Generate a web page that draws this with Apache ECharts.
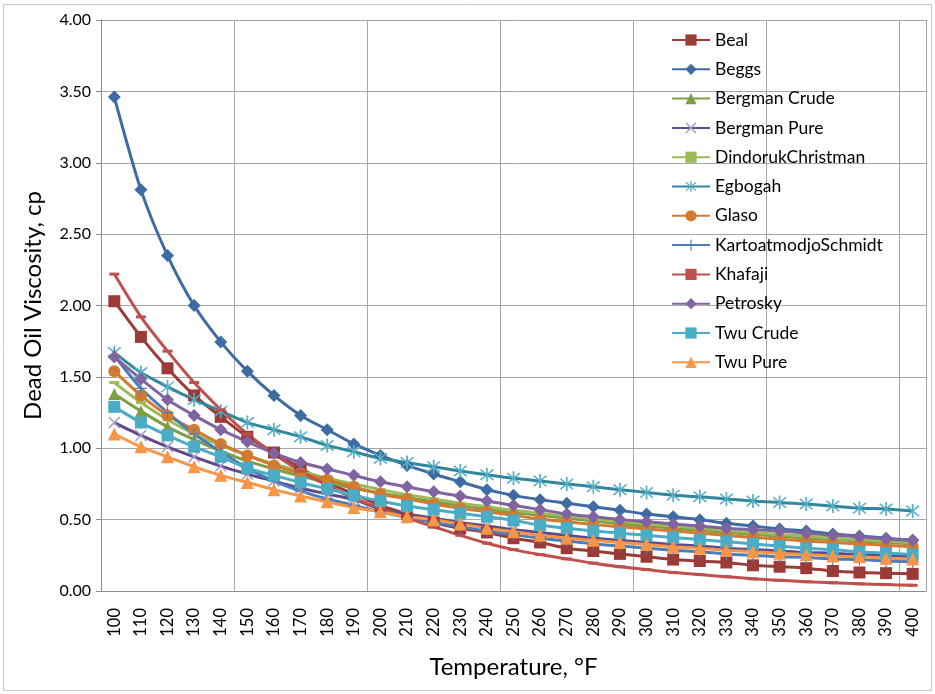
<!DOCTYPE html>
<html>
<head>
<meta charset="utf-8">
<script src="https://cdn.jsdelivr.net/npm/echarts@6/dist/echarts.min.js"></script>
<style>
html,body{margin:0;padding:0;background:#fff;}
#chart{width:935px;height:694px;}
</style>
</head>
<body>
<div id="chart"></div>
<script>
const categories = ['100','110','120','130','140','150','160','170','180','190','200','210','220','230','240','250','260','270','280','290','300','310','320','330','340','350','360','370','380','390','400'];
const yTicks = [0, 0.5, 1, 1.5, 2, 2.5, 3, 3.5, 4];

const beal = [2.03,1.78,1.56,1.37,1.22,1.08,0.97,0.86,0.76,0.68,0.60,0.54,0.48,0.44,0.41,0.37,0.34,0.30,0.28,0.26,0.24,0.22,0.21,0.20,0.18,0.17,0.16,0.14,0.13,0.125,0.12];
const beggs = [3.46,2.81,2.35,2.00,1.745,1.54,1.37,1.23,1.13,1.03,0.95,0.88,0.82,0.765,0.71,0.67,0.64,0.615,0.59,0.565,0.54,0.52,0.50,0.475,0.455,0.435,0.42,0.40,0.385,0.37,0.355];
const bergmanCrude = [1.38,1.26,1.15,1.06,0.98,0.91,0.855,0.805,0.76,0.72,0.685,0.655,0.625,0.60,0.575,0.55,0.53,0.51,0.49,0.47,0.455,0.44,0.425,0.41,0.395,0.385,0.37,0.36,0.35,0.34,0.33];
const bergmanPure = [1.18,1.09,1.01,0.94,0.875,0.82,0.77,0.72,0.68,0.64,0.575,0.54,0.51,0.48,0.455,0.43,0.41,0.39,0.37,0.355,0.34,0.325,0.315,0.30,0.29,0.28,0.27,0.265,0.255,0.25,0.24];
const dindoruk = [1.46,1.32,1.20,1.10,1.02,0.95,0.89,0.84,0.79,0.75,0.71,0.675,0.645,0.615,0.59,0.565,0.545,0.525,0.505,0.49,0.47,0.455,0.44,0.425,0.41,0.395,0.385,0.37,0.36,0.35,0.34];
const egbogah = [1.67,1.53,1.43,1.34,1.26,1.18,1.13,1.08,1.02,0.975,0.93,0.90,0.87,0.84,0.815,0.79,0.77,0.75,0.73,0.71,0.69,0.67,0.66,0.645,0.63,0.62,0.61,0.595,0.58,0.575,0.56];
const glaso = [1.54,1.37,1.23,1.13,1.03,0.95,0.88,0.825,0.78,0.73,0.68,0.645,0.61,0.58,0.555,0.53,0.505,0.485,0.465,0.45,0.435,0.42,0.405,0.39,0.375,0.365,0.35,0.34,0.33,0.32,0.31];
const kartoatmodjo = [1.65,1.42,1.25,1.10,0.975,0.86,0.77,0.70,0.645,0.60,0.555,0.515,0.48,0.45,0.42,0.395,0.37,0.35,0.33,0.315,0.30,0.285,0.275,0.26,0.25,0.24,0.235,0.225,0.22,0.21,0.205];
const khafaji = [2.22,1.92,1.68,1.46,1.27,1.10,0.96,0.84,0.74,0.65,0.58,0.51,0.45,0.39,0.335,0.29,0.255,0.225,0.195,0.17,0.15,0.13,0.115,0.10,0.085,0.075,0.065,0.058,0.05,0.045,0.04];
const petrosky = [1.64,1.485,1.34,1.23,1.13,1.045,0.965,0.90,0.855,0.81,0.765,0.73,0.695,0.665,0.63,0.60,0.57,0.54,0.52,0.50,0.485,0.47,0.455,0.44,0.43,0.42,0.405,0.39,0.38,0.365,0.355];
const twuCrude = [1.29,1.18,1.09,1.01,0.94,0.86,0.81,0.76,0.715,0.67,0.63,0.595,0.57,0.545,0.52,0.495,0.46,0.44,0.42,0.405,0.39,0.375,0.36,0.345,0.33,0.315,0.30,0.29,0.275,0.265,0.255];
const twuPure = [1.10,1.01,0.94,0.87,0.81,0.76,0.71,0.665,0.625,0.585,0.555,0.52,0.50,0.47,0.44,0.415,0.39,0.37,0.355,0.34,0.325,0.31,0.30,0.285,0.275,0.265,0.255,0.245,0.24,0.23,0.225];

const SYM_STAR = 'path://M-0.6,-6H0.6V6H-0.6Z M-4.08,-4.92L4.92,4.08L4.08,4.92L-4.92,-4.08Z M4.08,-4.92L4.92,-4.08L-4.08,4.92L-4.92,4.08Z';
const SYM_X = 'path://M-4.08,-4.92L4.92,4.08L4.08,4.92L-4.92,-4.08Z M4.08,-4.92L4.92,-4.08L-4.08,4.92L-4.92,4.08Z';
const SYM_PLUS = 'path://M-0.6,-6H0.6V6H-0.6Z M-6,-0.6H6V0.6H-6Z';
const SYM_DASH = 'path://M-5,-1H5V1H-5Z';

const FONT = 'Lato';

function mk(name, data, lineColor, markColor, symbol, size) {
  return {
    name: name,
    type: 'line',
    data: data,
    smooth: 0.25,
    symbol: symbol,
    symbolSize: size,
    showAllSymbol: true,
    lineStyle: { color: lineColor, width: 3 },
    itemStyle: { color: markColor, borderWidth: 0 },
    emphasis: { disabled: true }
  };
}

const series = [
  mk('Beal', beal, '#9B3B38', '#9B3B38', 'rect', 12),
  mk('Beggs', beggs, '#3E6BA4', '#3E6BA4', 'diamond', 13),
  mk('Bergman Crude', bergmanCrude, '#7E9D46', '#7E9D46', 'triangle', 12),
  mk('Bergman Pure', bergmanPure, '#5E4A8A', '#A597C6', SYM_X, 12),
  mk('DindorukChristman', dindoruk, '#9BBB59', '#9BBB59', SYM_DASH, [10, 3]),
  mk('Egbogah', egbogah, '#31879C', '#55AFC6', SYM_STAR, 14),
  mk('Glaso', glaso, '#D27A31', '#D27A31', 'circle', 12),
  mk('KartoatmodjoSchmidt', kartoatmodjo, '#4A7EBB', '#4A7EBB', SYM_PLUS, 12),
  mk('Khafaji', khafaji, '#C0504D', '#C0504D', SYM_DASH, [10, 3]),
  mk('Petrosky', petrosky, '#8064A2', '#8064A2', 'diamond', 13),
  mk('Twu Crude', twuCrude, '#4BACC6', '#4BACC6', 'rect', 12),
  mk('Twu Pure', twuPure, '#F79646', '#F79646', 'triangle', 13)
];

const chart = echarts.init(document.getElementById('chart'), null, { renderer: 'canvas' });
chart.setOption({
  animation: false,
  backgroundColor: '#fff',
  textStyle: { fontFamily: FONT },
  graphic: [{
    type: 'rect', silent: true, z: -1,
    shape: { x: 3.5, y: 4.5, width: 928, height: 686 },
    style: { fill: 'none', stroke: '#c6c6c6', lineWidth: 1 }
  }],
  grid: { left: 101, right: 9, top: 20, bottom: 103, containLabel: false },
  legend: {
    orient: 'vertical',
    left: 666,
    top: 26,
    itemWidth: 38,
    itemHeight: 14,
    itemGap: 11.3,
    textStyle: { fontFamily: FONT, fontSize: 17.5, color: '#000' },
    data: series.map(s => s.name)
  },
  xAxis: {
    type: 'category',
    data: categories,
    boundaryGap: true,
    name: 'Temperature, °F',
    nameLocation: 'middle',
    nameGap: 64,
    nameTextStyle: { fontFamily: FONT, fontSize: 24, color: '#000' },
    axisLine: { lineStyle: { color: '#8c8c8c', width: 1 } },
    axisTick: { show: false },
    axisLabel: { rotate: 90, margin: 17, fontFamily: FONT, fontSize: 16.5, color: '#000', interval: 0 },
    splitLine: { show: true, interval: 4, lineStyle: { color: '#a6a6a6', width: 1 } }
  },
  yAxis: {
    type: 'value',
    min: 0,
    max: 4,
    interval: 0.5,
    name: 'Dead Oil Viscosity, cp',
    nameLocation: 'middle',
    nameGap: 56,
    nameTextStyle: { fontFamily: FONT, fontSize: 24, color: '#000' },
    axisLine: { show: true, lineStyle: { color: '#8c8c8c', width: 1 } },
    axisTick: { show: true, length: 5, lineStyle: { color: '#8c8c8c' } },
    axisLabel: {
      margin: 10, fontFamily: FONT, fontSize: 16, color: '#000',
      formatter: v => (yTicks.indexOf(v) >= 0 ? v.toFixed(2) : '')
    },
    splitLine: { show: true, lineStyle: { color: '#a6a6a6', width: 1 } }
  },
  series: series
});
</script>
</body>
</html>
